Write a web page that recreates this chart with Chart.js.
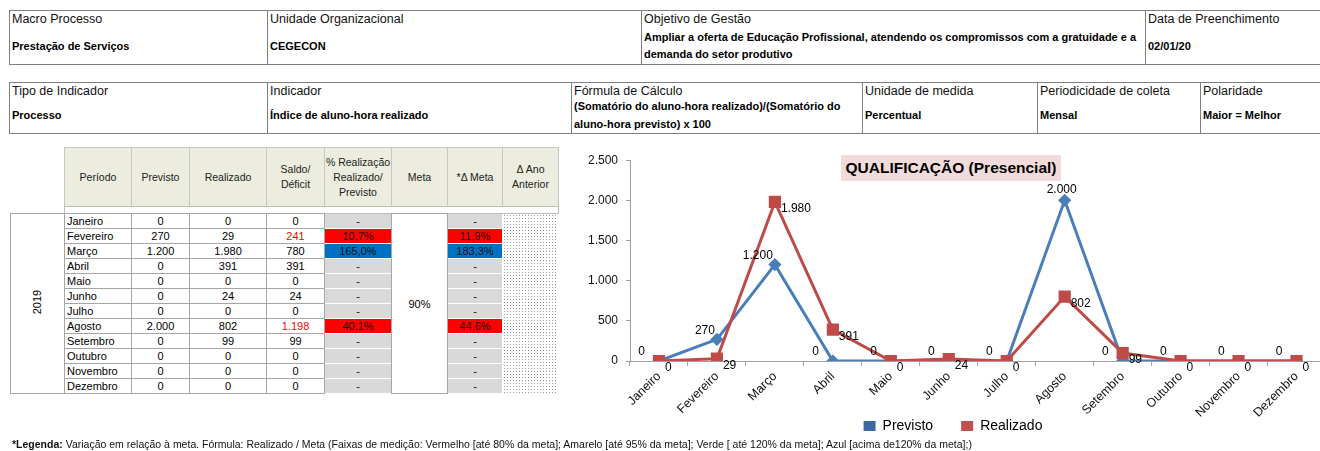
<!DOCTYPE html>
<html>
<head>
<meta charset="utf-8">
<script src="https://cdn.jsdelivr.net/npm/chart.js@4/dist/chart.umd.min.js"></script>
<style>
body { margin: 0; width: 1320px; height: 451px; overflow: hidden; position: relative; background: #fff;
       font-family: "Liberation Sans", Arial, sans-serif; color: #000; }
.abs { position: absolute; box-sizing: border-box; }
.lbl { font-size: 12.5px; line-height: 15px; white-space: nowrap; color: #111; }
.val { font-size: 11px; font-weight: bold; white-space: nowrap; display: flex; align-items: center; }
.hd { background: #ecedde; border: 1px solid #c6c6c6; display: flex; align-items: center; justify-content: center;
      text-align: center; font-size: 10.5px; line-height: 15px; color: #222; white-space: nowrap; }
.cell { border: 1px solid #a6a6a6; font-size: 11px; line-height: 14px; text-align: center; white-space: nowrap; }
.pct { font-size: 11px; line-height: 14px; text-align: center; color: #111; }
.dots { background-color: #fff; background-image: radial-gradient(circle, #9a9a9a 0.6px, transparent 1px); background-size: 3px 3px; }
#chartBox { left: 575px; top: 145px; width: 760px; height: 300px; }
#title { left: 841px; top: 155px; width: 220px; height: 26px; background: #f2dcdb; font-weight: bold;
         font-size: 15.5px; line-height: 26px; text-align: center; color: #000; }
#legenda { left: 12px; top: 437px; font-size: 10.5px; line-height: 14px; white-space: nowrap; color: #111; }
</style>
</head>
<body>
<div id="page"></div>
<div id="chartBox" class="abs"><canvas id="chart"></canvas></div>
<div id="title" class="abs">QUALIFICAÇÃO (Presencial)</div>
<div id="legenda" class="abs"><b>*Legenda:</b> Variação em relação à meta. Fórmula: Realizado / Meta (Faixas de medição: Vermelho [até 80% da meta]; Amarelo [até 95% da meta]; Verde [ até 120% da meta]; Azul [acima de120% da meta];)</div>
<script>
const months = ['Janeiro', 'Fevereiro', 'Março', 'Abril', 'Maio', 'Junho', 'Julho', 'Agosto', 'Setembro', 'Outubro', 'Novembro', 'Dezembro'];
const previsto = [0, 270, 1200, 0, 0, 0, 0, 2000, 0, 0, 0, 0];
const realizado = [0, 29, 1980, 391, 0, 24, 0, 802, 99, 0, 0, 0];
const saldo = [0, 241, 780, 391, 0, 24, 0, 1198, 99, 0, 0, 0];
const pctRealizacao = [null, 10.7, 165.0, null, null, null, null, 40.1, null, null, null, null];
const deltaMeta = [null, 11.9, 183.3, null, null, null, null, 44.6, null, null, null, null];
const meta = '90%';
const ano = '2019';
const yTicks = [0, 500, 1000, 1500, 2000, 2500];

const info1 = [
    ['Macro Processo', 'Prestação de Serviços'],
    ['Unidade Organizacional', 'CEGECON'],
    ['Objetivo de Gestão', 'Ampliar a oferta de Educação Profissional, atendendo os compromissos com a gratuidade e a<br>demanda do setor produtivo'],
    ['Data de Preenchimento', '02/01/20']
];
const info2 = [
    ['Tipo de Indicador', 'Processo'],
    ['Indicador', 'Índice de aluno-hora realizado'],
    ['Fórmula  de Cálculo', '(Somatório do aluno-hora realizado)/(Somatório do<br>aluno-hora previsto) x 100'],
    ['Unidade de medida', 'Percentual'],
    ['Periodicidade de coleta', 'Mensal'],
    ['Polaridade', 'Maior = Melhor']
];
const headers = ['Período', 'Previsto', 'Realizado', 'Saldo/<br>Déficit', '% Realização<br>Realizado/<br>Previsto', 'Meta', '*Δ Meta', 'Δ Ano<br>Anterior'];

const page = document.getElementById('page');
function box(x, y, w, h, cls, html, css) {
    const d = document.createElement('div');
    d.className = 'abs ' + (cls || '');
    d.style.left = x + 'px'; d.style.top = y + 'px';
    d.style.width = w + 'px'; d.style.height = h + 'px';
    if (css) Object.assign(d.style, css);
    d.innerHTML = html || '';
    page.appendChild(d);
    return d;
}
function fmt(v) { return String(v).replace(/\B(?=(\d{3})+(?!\d))/g, '.'); }
function fmtPct(v) { return v.toFixed(1).replace('.', ',') + '%'; }
function faixa(v) {
    if (v <= 80) return '#ff0000';
    if (v <= 95) return '#ffff00';
    if (v <= 120) return '#00b050';
    return '#0070c0';
}

// cabeçalhos
function infoTable(items, xs, top, h, valTop, lh) {
    box(xs[0], top, 1340, h + 1, '', '', { border: '1px solid #7f7f7f' });
    items.forEach((it, i) => {
        const x = xs[i], w = (xs[i + 1] || 1340) - x;
        if (i > 0) box(x, top, 1, h + 1, '', '', { background: '#7f7f7f' });
        box(x + 3, top + 2, w - 5, 15, 'lbl', it[0]);
        box(x + 3, valTop, w - 5, top + h - valTop, 'val', '<div>' + it[1] + '</div>', { lineHeight: lh + 'px' });
    });
}
infoTable(info1, [9, 267, 641, 1145], 10, 54, 28, 17);
infoTable(info2, [9, 267, 571, 862, 1037, 1200], 82, 51, 97, 18);

// tabela de dados
const cols = [64, 131, 189, 266, 324, 391, 447, 502, 558];
headers.forEach((h, i) => box(cols[i], 147, cols[i + 1] - cols[i] + 1, 60, 'hd', '<div>' + h + '</div>'));
box(64, 206, 495, 8, '', '', { border: '1px solid #bdbdbd' });
box(10, 213, 55, 181, '', '', { border: '1px solid #a6a6a6' });
box(12, 295, 50, 14, '', ano, { transform: 'rotate(-90deg)', fontSize: '11px', lineHeight: '14px', textAlign: 'center' });
box(cols[5], 213, cols[6] - cols[5] + 1, 181, 'cell', '', { display: 'flex', alignItems: 'center', justifyContent: 'center' }).textContent = meta;

const rowH = 15;
months.forEach((m, r) => {
    const y = 213 + r * rowH;
    const vals = [m, fmt(previsto[r]), fmt(realizado[r]), fmt(saldo[r])];
    vals.forEach((v, c) => {
        const d = box(cols[c], y, cols[c + 1] - cols[c] + 1, rowH + 1, 'cell', v);
        if (c === 0) { d.style.textAlign = 'left'; d.style.paddingLeft = '2px'; }
        if (c === 3 && realizado[r] < previsto[r]) d.style.color = '#ff0000';
    });
    [[4, pctRealizacao[r]], [6, deltaMeta[r]]].forEach(([c, v]) => {
        const bg = v === null ? '#d9d9d9' : faixa(deltaMeta[r]);
        box(cols[c] + 1, y + 1, cols[c + 1] - cols[c] - 1, rowH - 1, 'pct', v === null ? '-' : fmtPct(v), { background: bg });
    });
    box(cols[7] + 1, y + 1, cols[8] - cols[7] - 1, rowH - 1, 'dots');
});

// gráfico
Chart.defaults.font.family = '"Liberation Sans", Arial, sans-serif';
Chart.defaults.color = '#000';

const legendColors = ['#3d69a3', '#c0504d'];

const pointLabels = {
    id: 'pointLabels',
    afterDatasetsDraw(chart) {
        const ctx = chart.ctx;
        ctx.save();
        ctx.font = '12px "Liberation Sans", Arial, sans-serif';
        ctx.fillStyle = '#000';
        ctx.textBaseline = 'middle';
        chart.data.datasets.forEach((ds, di) => {
            const top = Math.max(...ds.data);
            chart.getDatasetMeta(di).data.forEach((pt, i) => {
                const v = ds.data[i];
                if (di === 0) {
                    if (v === top) { ctx.textAlign = 'center'; ctx.fillText(fmt(v), pt.x - 3, pt.y - 11); }
                    else { ctx.textAlign = 'right'; ctx.fillText(fmt(v), v === 0 ? pt.x - 14 : pt.x - 2, pt.y - 9); }
                } else {
                    ctx.textAlign = 'left';
                    ctx.fillText(fmt(v), pt.x + 6, pt.y + 7);
                }
            });
        });
        ctx.restore();
    }
};

// os rótulos do eixo x invadem a área da legenda, sem corte
const unclipX = {
    id: 'unclipX',
    afterLayout(chart) { chart.scales.x.bottom = chart.height; }
};

new Chart(document.getElementById('chart'), {
    type: 'line',
    data: {
        labels: months,
        datasets: [{
            label: 'Previsto',
            data: previsto,
            borderColor: '#4a7ebb',
            backgroundColor: '#4a7ebb',
            pointBackgroundColor: '#4a7ebb',
            pointStyle: 'rectRot',
            pointRadius: 4.5,
            borderWidth: 3,
            tension: 0,
            order: 1
        }, {
            label: 'Realizado',
            data: realizado,
            borderColor: '#be4b48',
            backgroundColor: '#be4b48',
            pointBackgroundColor: '#be4b48',
            pointStyle: 'rect',
            pointRadius: 6.5,
            borderWidth: 3,
            tension: 0,
            order: 0
        }]
    },
    options: {
        responsive: true,
        maintainAspectRatio: false,
        animation: false,
        layout: { padding: { top: 14, right: 4, bottom: 2, left: 0 } },
        scales: {
            x: {
                offset: true,
                grid: { offset: true, drawOnChartArea: false, tickLength: 5, color: '#a0a0a0' },
                border: { color: '#a0a0a0' },
                ticks: { autoSkip: false, maxRotation: 45, minRotation: 45, padding: 3, font: { size: 12.5 }, color: '#111' },
                afterFit(scale) { scale.height = 30; }
            },
            y: {
                min: 0,
                max: 2500,
                afterBuildTicks(scale) { scale.ticks = yTicks.map(v => ({ value: v })); },
                grid: { drawOnChartArea: false, tickLength: 4, color: '#a0a0a0' },
                border: { color: '#a0a0a0' },
                ticks: { padding: 8, font: { size: 12 }, color: '#111', callback: v => fmt(v) },
                afterFit(scale) { scale.width = 55; }
            }
        },
        plugins: {
            title: { display: false },
            tooltip: { enabled: false },
            legend: {
                position: 'bottom',
                labels: {
                    boxWidth: 12,
                    boxHeight: 10,
                    padding: 28,
                    font: { size: 14 },
                    color: '#111',
                    generateLabels(chart) {
                        return chart.data.datasets.map((ds, i) => ({
                            text: ds.label, fillStyle: legendColors[i], strokeStyle: legendColors[i],
                            lineWidth: 0, datasetIndex: i, hidden: false
                        }));
                    }
                }
            }
        }
    },
    plugins: [pointLabels, unclipX]
});
</script>
</body>
</html>
